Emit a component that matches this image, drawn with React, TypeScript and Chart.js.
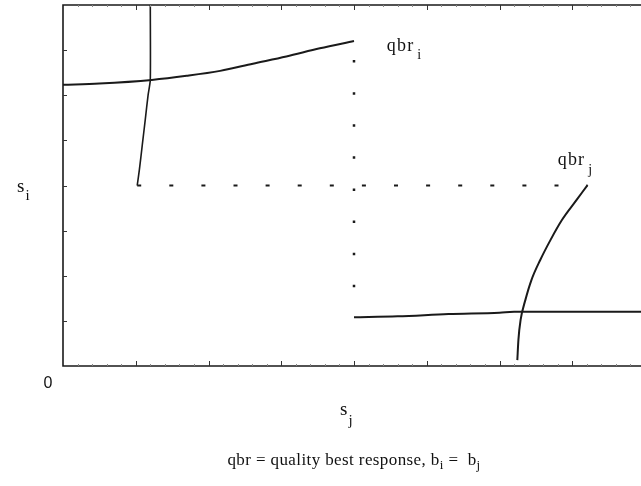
import React, { useEffect, useRef } from "react";
import { Chart, registerables } from "chart.js";

Chart.register(...registerables);

// qbr_i: upper branch (s_i as s_j rises from 0 to 4)
const upperBranchX = [0, 0.5, 1.22, 1.7, 2.16, 2.61, 3.07, 3.53, 4.0];
const upperBranchY = [6.23, 6.26, 6.34, 6.43, 6.54, 6.7, 6.86, 7.04, 7.2];

// qbr_i: lower branch after the jump at s_j = 4
const lowerBranchX = [4.0, 4.6, 5.3, 6.0, 6.2, 8.0];
const lowerBranchY = [1.08, 1.1, 1.15, 1.18, 1.2, 1.2];

// qbr_j: near-vertical branch on the left
const leftBranchX = [1.2, 1.2, 1.17, 1.13, 1.09, 1.05, 1.02];
const leftBranchY = [8.0, 6.34, 6.01, 5.45, 4.9, 4.35, 4.0];

// qbr_j: rising branch on the right
const rightBranchX = [6.245, 6.26, 6.29, 6.355, 6.44, 6.56, 6.7, 6.86, 7.06, 7.21];
const rightBranchY = [0.13, 0.58, 1.02, 1.46, 1.91, 2.35, 2.79, 3.24, 3.68, 4.01];

// jump connectors
const dashedX = [1.02, 7.21];
const dashedY = [4.0, 4.0];
const dottedX = [4.0, 4.0];
const dottedY = [6.78, 1.1];

const xMajorTicks = [1, 2, 3, 4, 5, 6, 7];
const yMajorTicks = [1, 2, 3, 4, 5, 6, 7];
const axisMin = 0;
const axisMax = 8;

const toPoints = (xs: number[], ys: number[]) => xs.map((x, i) => ({ x, y: ys[i] }));

const SERIF = '"Liberation Serif", "Times New Roman", serif';

function drawSub(ctx: CanvasRenderingContext2D, main: string, sub: string, x: number, y: number, size: number, subDy: number, spacing: string, gap = 2) {
  ctx.font = `${size}px ${SERIF}`;
  (ctx as any).letterSpacing = spacing;
  ctx.textAlign = "left";
  ctx.textBaseline = "alphabetic";
  ctx.fillText(main, x, y);
  const w = ctx.measureText(main).width;
  ctx.font = `${Math.round(size * 0.8)}px ${SERIF}`;
  ctx.fillText(sub, x + w + gap, y + subDy);
}

export default function App() {
  const ref = useRef<HTMLCanvasElement>(null);

  useEffect(() => {
    const framePlugin = {
      id: "framePlugin",
      afterDraw(chart: any) {
        const ctx: CanvasRenderingContext2D = chart.ctx;
        const { left, right, top, bottom } = chart.chartArea;
        const xs = chart.scales.x;
        const ys = chart.scales.y;
        ctx.save();
        ctx.strokeStyle = "#1a1a1a";
        ctx.lineWidth = 1.6;
        ctx.beginPath();
        ctx.moveTo(left, top);
        ctx.lineTo(right, top);
        ctx.lineTo(right, bottom);
        ctx.lineTo(left, bottom);
        ctx.closePath();
        ctx.stroke();

        // major ticks (inward)
        ctx.lineWidth = 1;
        ctx.strokeStyle = "#333";
        ctx.beginPath();
        xMajorTicks.forEach((v) => {
          const px = Math.round(xs.getPixelForValue(v)) + 0.5;
          ctx.moveTo(px, bottom);
          ctx.lineTo(px, bottom - 5);
          ctx.moveTo(px, top);
          ctx.lineTo(px, top + 5);
        });
        yMajorTicks.forEach((v) => {
          const py = Math.round(ys.getPixelForValue(v)) + 0.5;
          ctx.moveTo(left, py);
          ctx.lineTo(left + 4, py);
          ctx.moveTo(right, py);
          ctx.lineTo(right - 4, py);
        });
        ctx.stroke();

        // minor ticks on horizontal axes
        ctx.strokeStyle = "#888";
        ctx.beginPath();
        for (let k = 1; k < 40; k++) {
          if (k % 5 === 0) continue;
          const v = axisMin + (k * (axisMax - axisMin)) / 40;
          const px = Math.round(xs.getPixelForValue(v)) + 0.5;
          ctx.moveTo(px, bottom);
          ctx.lineTo(px, bottom - 2);
          ctx.moveTo(px, top);
          ctx.lineTo(px, top + 2);
        }
        ctx.stroke();

        // texts
        ctx.fillStyle = "#111";
        drawSub(ctx, "qbr", "i", xs.getPixelForValue(4.45), ys.getPixelForValue(6.98), 18, 8, "1.2px", 3);
        drawSub(ctx, "qbr", "j", xs.getPixelForValue(6.8), ys.getPixelForValue(4.45), 18, 9, "1.2px", 3);
        drawSub(ctx, "s", "i", 17, 192, 19, 8, "0px", 1);
        drawSub(ctx, "s", "j", 340, 415, 19, 10, "0px", 1);

        ctx.font = '16px "Liberation Sans", Arial, sans-serif';
        (ctx as any).letterSpacing = "0px";
        ctx.textAlign = "center";
        ctx.fillText("0", 48, 388);

        // caption
        const size = 17;
        const segs: [string, boolean][] = [
          ["qbr = quality best response, b", false],
          ["i", true],
          [" =  b", false],
          ["j", true],
        ];
        ctx.textAlign = "left";
        (ctx as any).letterSpacing = "0.4px";
        let total = 0;
        segs.forEach(([t, s]) => {
          ctx.font = `${s ? 13 : size}px ${SERIF}`;
          total += ctx.measureText(t).width;
        });
        let cx = (left + right) / 2 - total / 2;
        segs.forEach(([t, s]) => {
          ctx.font = `${s ? 13 : size}px ${SERIF}`;
          ctx.fillText(t, cx, s ? 469 : 465);
          cx += ctx.measureText(t).width;
        });
        ctx.restore();
      },
    };

    const lineStyle = {
      showLine: true,
      pointRadius: 0,
      borderColor: "#1a1a1a",
      backgroundColor: "#1a1a1a",
      borderWidth: 2,
      tension: 0.3,
      fill: false,
    };

    const chart = new Chart(ref.current!, {
      type: "scatter",
      data: {
        datasets: [
          { label: "qbr_i upper", data: toPoints(upperBranchX, upperBranchY), ...lineStyle, cubicInterpolationMode: "monotone" },
          { label: "qbr_i lower", data: toPoints(lowerBranchX, lowerBranchY), ...lineStyle, cubicInterpolationMode: "monotone" },
          { label: "qbr_j left", data: toPoints(leftBranchX, leftBranchY), ...lineStyle, borderWidth: 1.6, tension: 0.2 },
          { label: "qbr_j right", data: toPoints(rightBranchX, rightBranchY), ...lineStyle, cubicInterpolationMode: "monotone" },
          { label: "dashed", data: toPoints(dashedX, dashedY), ...lineStyle, tension: 0, borderDash: [4, 28.1], borderWidth: 2 },
          { label: "dotted", data: toPoints(dottedX, dottedY), ...lineStyle, tension: 0, borderDash: [2.5, 29.6], borderWidth: 2.5 },
        ],
      },
      options: {
        animation: false,
        responsive: false,
        events: [],
        layout: { padding: { left: 63, top: 5, right: 15, bottom: 120 } },
        plugins: { legend: { display: false }, tooltip: { enabled: false }, title: { display: false } },
        scales: {
          x: { type: "linear", min: axisMin, max: axisMax, display: false },
          y: { type: "linear", min: axisMin, max: axisMax, display: false },
        },
      },
      plugins: [framePlugin],
    } as any);
    return () => chart.destroy();
  }, []);

  return (
    <div style={{ position: "absolute", left: 0, top: 0, width: 641, height: 486, overflow: "hidden", background: "#fff" }}>
      <canvas ref={ref} width={660} height={486} style={{ display: "block", width: 660, height: 486 }} />
    </div>
  );
}
